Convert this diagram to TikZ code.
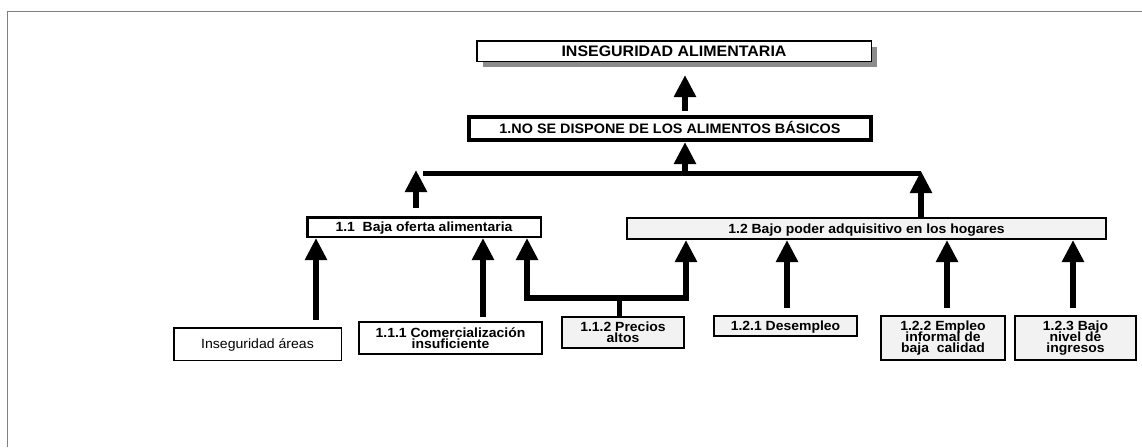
\documentclass[tikz,border=0pt]{standalone}
\usepackage{fontspec}
\newfontfamily\dgmsans{Liberation Sans}[FakeStretch=1.05]
\usetikzlibrary{arrows.meta,calc,shadows}
\newcommand\dgmfont[2]{\dgmsans\bfseries\fontsize{#1}{#2}\selectfont\lineskiplimit=-20pt\relax}
\begin{document}
\begin{tikzpicture}[x=1pt,y=-1pt,
  box/.style={draw=black, fill=white, line width=2pt, inner sep=0pt, align=center,
    font=\dgmfont{13.3}{11.3}},
  greybox/.style={box, fill=black!5},
  oneline/.style={text height=9.5pt, text depth=0pt},
  arr/.style={line width=5.5pt, -{Triangle[width=21pt,length=22pt]}},
  bar/.style={line width=5pt},
  frame/.style={draw=black!50, line width=1pt}
]
\useasboundingbox (0,0) rectangle (1142,447);
% page frame, open to the right and at the bottom
\draw[frame] (7,447) |- (1142,11);

% effect boxes
\node[box, oneline, text height=10.8pt, line width=1.5pt, minimum width=394.5pt, minimum height=20.5pt,
  font=\dgmfont{15.2}{15},
  general shadow={fill=black!45, shadow xshift=6pt, shadow yshift=-6pt}]
  (title) at (674,51) {INSEGURIDAD ALIMENTARIA};
\node[box, oneline, text height=9.8pt, line width=4pt, minimum width=402pt, minimum height=23pt,
  font=\dgmfont{13.7}{14}]
  (main) at (670,128.5) {1.NO SE DISPONE DE LOS ALIMENTOS BÁSICOS};

% first-level causes
\node[box, oneline, line width=2.5pt, minimum width=233.5pt, minimum height=19.5pt]
  (b11) at (424,227) {1.1~~Baja oferta alimentaria};
\node[greybox, oneline, minimum width=479pt, minimum height=21pt]
  (b12) at (866.5,228.5) {1.2 Bajo poder adquisitivo en los hogares};

% second-level causes
\node[box, oneline, line width=1.5pt, minimum width=167.5pt, minimum height=32.5pt,
  font=\dgmsans\mdseries\fontsize{13.4}{12}\selectfont]
  (ins) at (257.5,344) {Inseguridad áreas};
\node[box, minimum width=183pt, minimum height=32pt]
  (b111) at (450.5,338) {1.1.1 Comercialización\\insuficiente};
\node[greybox, minimum width=122pt, minimum height=31pt]
  (b112) at (623,332.5) {1.1.2 Precios\\altos};
\node[greybox, oneline, minimum width=143pt, minimum height=20pt]
  (b121) at (785.5,326) {1.2.1 Desempleo};
\node[greybox, minimum width=124pt, minimum height=44pt]
  (b122) at (943,338) {1.2.2 Empleo\\informal de\\baja~~calidad};
\node[greybox, minimum width=121pt, minimum height=44pt]
  (b123) at (1075.5,338) {1.2.3 Bajo\\nivel de\\ingresos};

% junction points
\coordinate (barL) at (423,173);
\coordinate (barR) at (921,173);
\coordinate (up11) at (416,170);
\coordinate (pj) at (619,298);

% upper connectors
\draw[arr] ($(685,0 |- main.north)+(0,-4)$) -- ($(685,0 |- title.south)+(0,13)$);
\draw[arr] (685,173) -- (685,0 |- main.south);
\draw[bar] (barL) -- (barR);
\draw[arr] (921,0 |- b12.north) -- ($(barR)+(0,-2)$);
\draw[arr] ($(416,0 |- b11.north)+(0,-8)$) -- (up11);

% connectors into 1.1
\draw[arr] ($(316,0 |- ins.north)+(0,-7)$) -- (316,0 |- b11.south);
\draw[arr] ($(483,0 |- b111.north)+(0,-4)$) -- (483,0 |- b11.south);

% prices feed both first-level causes
\draw[bar] (619,0 |- b112.north) -- (pj);
\draw[arr] (pj) -| (527,0 |- b11.south);
\draw[arr] (pj) -| (686,0 |- b12.south);

% connectors into 1.2
\draw[arr] ($(787,0 |- b121.north)+(0,-7)$) -- (787,0 |- b12.south);
\draw[arr] ($(947,0 |- b122.north)+(0,-7)$) -- (947,0 |- b12.south);
\draw[arr] ($(1073,0 |- b123.north)+(0,-7)$) -- (1073,0 |- b12.south);
\end{tikzpicture}
\end{document}
